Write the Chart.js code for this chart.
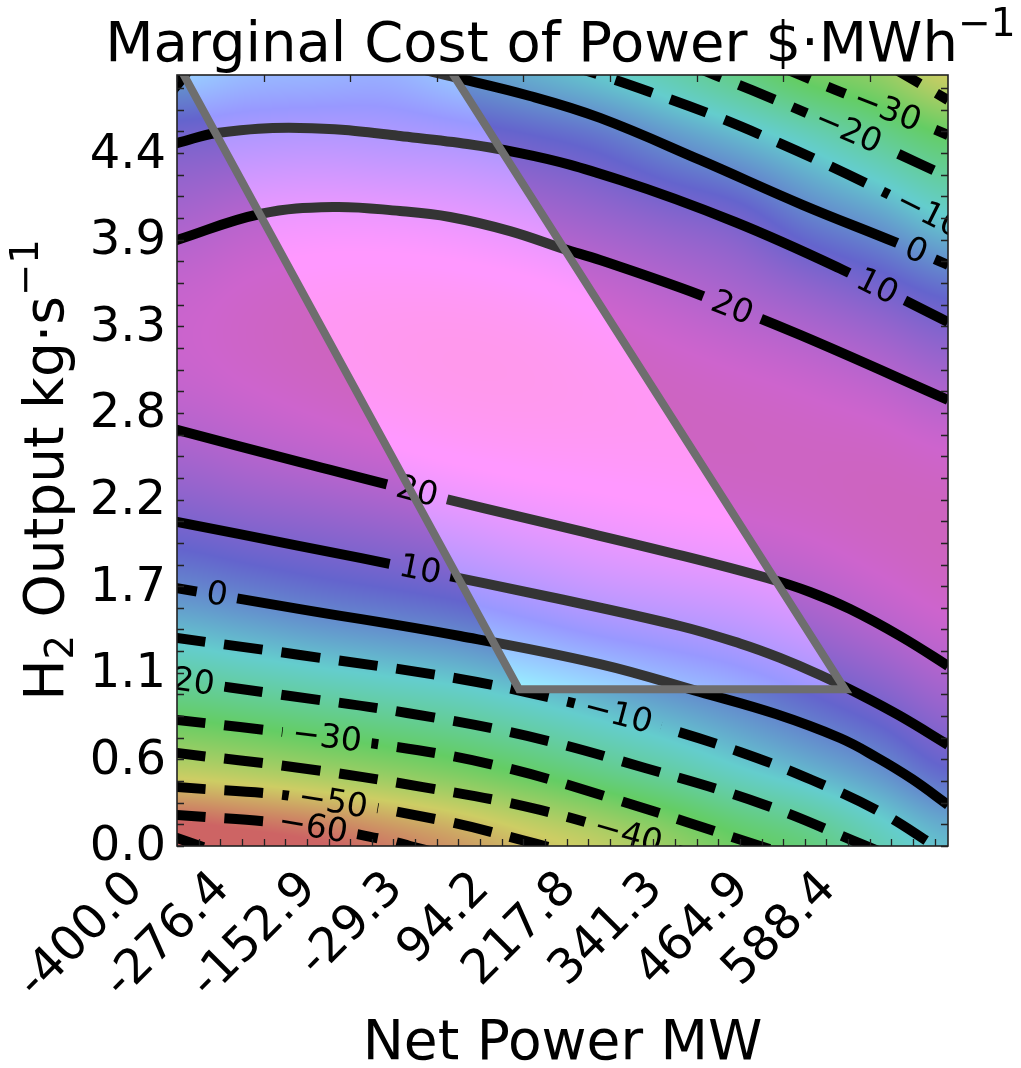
<!DOCTYPE html>
<html><head><meta charset="utf-8">
<script src="https://cdn.jsdelivr.net/npm/chart.js@4.4.0/dist/chart.umd.min.js"></script>
<style>html,body{margin:0;padding:0;background:#fff;}#wrap{width:1021px;height:1068px;}</style>
</head><body><div id="wrap"><canvas id="c" width="1021" height="1068"></canvas></div>
<script>
// ---------- axes ----------
const X_MIN = -400, X_MAX = 700, Y_MIN = 0, Y_MAX = 4.92;
const X_TICK_VALUES = [-400, -276.45, -152.9, -29.35, 94.2, 217.75, 341.3, 464.85, 588.4];
const X_TICK_LABELS = ['-400.0', '-276.4', '-152.9', '-29.3', '94.2', '217.8', '341.3', '464.9', '588.4'];
const Y_TICK_VALUES = [0, 0.5527, 1.1054, 1.6581, 2.2108, 2.7635, 3.3162, 3.8689, 4.4216];
const Y_TICK_LABELS = ['0.0', '0.6', '1.1', '1.7', '2.2', '2.8', '3.3', '3.9', '4.4'];

// ---------- field ----------
const GRID_X = [-400, -300, -200, -100, 0, 100, 200, 300, 400, 500, 600, 700];
const GRID_Y = [0, 0.5, 1.0, 1.5, 2.0, 2.5, 3.0, 3.5, 4.0, 4.5, 5.0];
const FIELD_Z = [
  [-73, -70, -67, -62, -57, -51, -46, -39, -31.5, -26, -16.6, -9],
  [-44.3, -42, -39.1, -36.1, -32.6, -28.2, -23.2, -18.2, -12.3, -7.1, -1.4, 6.2],
  [-22.3, -19.9, -17.4, -15.1, -12.8, -9.2, -5.5, -1.7, 2.0, 6.6, 11.5, 17.0],
  [-4.6, -2.2, 0.3, 2.1, 4.1, 7.3, 10.5, 12.5, 14.5, 17.6, 21.2, 24.2],
  [8.4, 10.5, 12.2, 14.0, 16.1, 18.5, 20.4, 21.8, 22.9, 24.2, 25.7, 26.5],
  [17.4, 19.5, 21.3, 22.9, 24.4, 25.3, 25.6, 25.7, 25.8, 25.7, 25.5, 24.2],
  [22.8, 24.3, 25.7, 26.8, 27.5, 27.4, 26.5, 25.4, 24.2, 22.7, 20.4, 16.9],
  [22.9, 24.5, 25.6, 26.1, 26.0, 25.1, 23.2, 20.8, 18.1, 14.7, 10.6, 5.7],
  [17.8, 20.2, 21.0, 20.8, 19.8, 18.0, 15.3, 12.3, 9.0, 1.7, -3.8, -11.2],
  [9.6, 10.8, 11.4, 10.7, 9.5, 7.2, 4.0, -1.7, -7.2, -13.8, -21.1, -28.6],
  [-5, -1, 0, 1, -3.6, -8, -12.7, -18.4, -26, -34.4, -39.5, -50]
];

// ---------- contour lines (x MW, y kg/s) ----------
const C_P20_LOW = [[-415,2.673],[-400,2.655],[-224.5,2.450],[-57.6,2.259],[132.2,2.055],[321.9,1.851],[441.8,1.710],[503.1,1.621],[560.2,1.512],[631.5,1.340],[700,1.149],[715,1.104]];
const C_P10_LOW = [[-415,2.081],[-400,2.068],[-224.5,1.914],[-53.3,1.761],[132.2,1.589],[317.6,1.404],[403.2,1.292],[460.3,1.200],[517.4,1.091],[574.4,0.967],[631.5,0.830],[700,0.645],[715,0.604]];
const C_0_LOW   = [[-415,1.657],[-400,1.646],[-224.5,1.512],[3.8,1.340],[203.5,1.161],[346.2,0.983],[454.6,0.842],[545.9,0.689],[597.3,0.568],[648.6,0.428],[700,0.262],[715,0.213]];
const C_M10_LOW = [[-415,1.336],[-400,1.327],[-224.5,1.219],[3.8,1.066],[146.4,0.932],[276.3,0.779],[403.2,0.600],[505.9,0.421],[603.0,0.217],[681.4,0],[699.5,-0.05]];
const C_M20_LOW = [[-415,1.068],[-400,1.059],[-248.8,0.964],[-71.9,0.849],[99.4,0.702],[267.7,0.498],[438.9,0.262],[583,0],[610.5,-0.05]];
const C_M30_LOW = [[-415,0.8115],[-400,0.804],[-310.1,0.759],[-124.6,0.657],[46.6,0.523],[219.2,0.306],[431.8,0],[466.5,-0.05]];
const C_M40_LOW = [[-415,0.601],[-400,0.593],[-224.5,0.498],[-49.0,0.376],[117.9,0.230],[296.2,0],[335,-0.05]];
const C_M50_LOW = [[-415,0.381],[-400,0.376],[-224.5,0.313],[-24.8,0.166],[125,0],[170,-0.05]];
const C_M60_LOW = [[-415,0.2035],[-400,0.198],[-224.5,0.134],[-100.4,0.038],[-67.6,0],[-24.5,-0.05]];
const C_M70_LOW = [[-415,0.074],[-400,0.051],[-367.2,0],[-335,-0.05]];
const C_P20_UP  = [[-415,3.846],[-400,3.867],[-281.6,4.033],[-177.4,4.078],[-81.8,4.052],[-10.5,4.014],[75.1,3.924],[152.1,3.810],[203.5,3.739],[346.2,3.516],[488.9,3.261],[700,2.846],[715,2.816]];
const C_P10_UP  = [[-415,4.476],[-400,4.486],[-342.9,4.550],[-224.5,4.582],[-81.8,4.531],[89.4,4.422],[232.0,4.250],[396.1,3.982],[550.2,3.676],[700,3.344],[715,3.311]];
const C_0_UP_A  = [[-415,4.772],[-400,4.856],[-388.6,4.920],[-375,5.0]];
const C_0_UP_B  = [[-75,4.984],[-17.6,4.920],[103.6,4.786],[203.5,4.646],[346.2,4.378],[493.1,4.090],[627.2,3.848],[700,3.708],[715,3.679]];
const C_M10_UP  = [[146.5,5.0],[203.5,4.920],[274.8,4.811],[360.4,4.671],[446.0,4.512],[531.6,4.339],[617.2,4.154],[700,3.969],[715,3.936]];
const C_M20_UP  = [[324.8,4.998],[367.6,4.920],[474.6,4.722],[560.2,4.556],[617.3,4.441],[700,4.269],[715,4.238]];
const C_M30_UP  = [[452,4.99],[488.9,4.920],[540.2,4.824],[613,4.697],[700,4.537],[715,4.509]];
const C_M40_UP  = [[612,4.99],[638.7,4.920],[700,4.760],[715,4.721]];

const CONTOUR_LEVELS = [20, 10, 0, -10, -20, -30, -40, -50, -60, -70, 20, 10, 0, 0, -10, -20, -30, -40];
const CONTOUR_POINTS = [C_P20_LOW, C_P10_LOW, C_0_LOW, C_M10_LOW, C_M20_LOW, C_M30_LOW, C_M40_LOW, C_M50_LOW, C_M60_LOW, C_M70_LOW,
                        C_P20_UP, C_P10_UP, C_0_UP_A, C_0_UP_B, C_M10_UP, C_M20_UP, C_M30_UP, C_M40_UP];

// ---------- contour labels ----------
const LABEL_TEXT = ['20', '10', '0', '\u221210', '\u221220', '\u221230', '\u221240', '\u221250', '\u221260', '20', '10', '0', '\u221210', '\u221220', '\u221230'];
const LABEL_X    = [-57.6, -53.3, -342.9, 229.2, -395.7, -186, 243.4, -177.4, -206, 391.8, 598.7, 654.3, 672.9, 557.3, 613];
const LABEL_Y    = [2.259, 1.761, 1.603, 0.836, 1.056, 0.691, 0.07, 0.278, 0.120, 3.433, 3.568, 3.796, 4.03, 4.563, 4.697];
const LABEL_LINE = [0, 1, 2, 3, 4, 5, 6, 7, 8, 10, 11, 13, 14, 15, 16];

// ---------- operating region ----------
const REGION_X = [-400, -17, 553, 88];
const REGION_Y = [5.0, 5.0, 1.0, 1.0];

// ---------- colormap ----------
const CMAP_STOPS = [[-66,[205,100,100]],[-48,[205,205,100]],[-30,[100,205,100]],[-12,[100,205,205]],[6,[100,100,205]],[24,[205,100,205]],[42,[205,100,100]]];

function cmap(z){
  const s = CMAP_STOPS;
  if (z <= s[0][0]) return s[0][1];
  for (let k = 0; k < s.length - 1; k++){
    if (z <= s[k+1][0]){
      const t = (z - s[k][0]) / (s[k+1][0] - s[k][0]);
      const a = s[k][1], b = s[k+1][1];
      return [a[0]+(b[0]-a[0])*t, a[1]+(b[1]-a[1])*t, a[2]+(b[2]-a[2])*t];
    }
  }
  return s[s.length-1][1];
}
function cr(p0,p1,p2,p3,t){
  return p1 + 0.5*t*(p2-p0 + t*(2*p0-5*p1+4*p2-p3 + t*(3*(p1-p2)+p3-p0)));
}
function zAt(x, y){
  const nx = GRID_X.length, ny = GRID_Y.length;
  let fx = (x - GRID_X[0]) / (GRID_X[1]-GRID_X[0]);
  let fy = (y - GRID_Y[0]) / (GRID_Y[1]-GRID_Y[0]);
  fx = Math.max(0, Math.min(nx-1.0001, fx)); fy = Math.max(0, Math.min(ny-1.0001, fy));
  const i = Math.floor(fx), j = Math.floor(fy), tx = fx - i, ty = fy - j;
  const cx = k => Math.max(0, Math.min(nx-1, k)), cy = k => Math.max(0, Math.min(ny-1, k));
  const rows = [];
  for (let m = -1; m <= 2; m++){
    const r = FIELD_Z[cy(j+m)];
    rows.push(cr(r[cx(i-1)], r[cx(i)], r[cx(i+1)], r[cx(i+2)], tx));
  }
  return cr(rows[0], rows[1], rows[2], rows[3], ty);
}

const FONT = '"DejaVu Sans", sans-serif';

function richWidth(ctx, parts, size){
  let w = 0;
  for (const p of parts){ ctx.font = ((p.sup||p.sub) ? size*0.7 : size) + 'px ' + FONT; w += ctx.measureText(p.t).width; }
  return w;
}
function drawRich(ctx, parts, cx, baseY, size){
  const w = richWidth(ctx, parts, size);
  let x = cx - w/2;
  ctx.textAlign = 'left'; ctx.textBaseline = 'alphabetic'; ctx.fillStyle = '#000';
  for (const p of parts){
    const s = (p.sup||p.sub) ? size*0.7 : size;
    ctx.font = s + 'px ' + FONT;
    let y = baseY;
    if (p.sup) y -= size*0.45;
    if (p.sub) y += size*0.18;
    ctx.fillText(p.t, x, y);
    x += ctx.measureText(p.t).width;
  }
}

function labelAngle(xs, ys, pts, xv){
  for (let k = 0; k < pts.length-1; k++){
    if (xv >= pts[k][0] && xv <= pts[k+1][0]){
      const x0 = xs.getPixelForValue(pts[k][0]), y0 = ys.getPixelForValue(pts[k][1]);
      const x1 = xs.getPixelForValue(pts[k+1][0]), y1 = ys.getPixelForValue(pts[k+1][1]);
      return Math.atan2(y1-y0, x1-x0);
    }
  }
  return 0;
}

const fieldPlugin = {
  id: 'field',
  beforeDatasetsDraw(chart){
    const {ctx, chartArea: a, scales: {x: xs, y: ys}} = chart;
    const w = Math.round(a.right - a.left), h = Math.round(a.bottom - a.top);
    const off = document.createElement('canvas'); off.width = w; off.height = h;
    const octx = off.getContext('2d');
    const img = octx.createImageData(w, h);
    const xv = []; for (let i = 0; i < w; i++) xv.push(xs.getValueForPixel(a.left + i + 0.5));
    for (let j = 0; j < h; j++){
      const yv = ys.getValueForPixel(a.top + j + 0.5);
      for (let i = 0; i < w; i++){
        const c = cmap(zAt(xv[i], yv));
        const o = (j*w + i)*4;
        img.data[o] = c[0]; img.data[o+1] = c[1]; img.data[o+2] = c[2]; img.data[o+3] = 255;
      }
    }
    octx.putImageData(img, 0, 0);
    chart.$field = off;
    ctx.drawImage(off, a.left, a.top);
  },
  afterDatasetsDraw(chart){
    const {ctx, chartArea: a, scales: {x: xs, y: ys}} = chart;
    const labelFont = '33px ' + FONT;
    ctx.save();
    ctx.font = labelFont;
    const geo = LABEL_TEXT.map((t, k) => {
      const px = xs.getPixelForValue(LABEL_X[k]), py = ys.getPixelForValue(LABEL_Y[k]);
      const ang = labelAngle(xs, ys, CONTOUR_POINTS[LABEL_LINE[k]], LABEL_X[k]);
      return {t, px, py, ang, w: ctx.measureText(t).width};
    });
    for (const g of geo){
      ctx.save();
      ctx.beginPath(); ctx.rect(a.left, a.top, a.right-a.left, a.bottom-a.top); ctx.clip();
      ctx.translate(g.px, g.py); ctx.rotate(g.ang);
      ctx.beginPath(); ctx.rect(-g.w/2 - 10, -9, g.w + 20, 18);
      ctx.setTransform(1,0,0,1,0,0);
      ctx.clip();
      ctx.drawImage(chart.$field, a.left, a.top);
      ctx.restore();
    }
    ctx.restore();
    const poly = () => {
      ctx.beginPath();
      REGION_X.forEach((xv, k) => {
        const px = xs.getPixelForValue(xv), py = ys.getPixelForValue(REGION_Y[k]);
        if (k === 0) ctx.moveTo(px, py); else ctx.lineTo(px, py);
      });
      ctx.closePath();
    };
    ctx.save();
    ctx.beginPath(); ctx.rect(a.left, a.top, a.right-a.left, a.bottom-a.top); ctx.clip();
    ctx.globalCompositeOperation = 'lighter';
    ctx.fillStyle = 'rgb(52,52,52)';
    poly(); ctx.fill();
    ctx.restore();
    ctx.save();
    ctx.beginPath(); ctx.rect(a.left, a.top, a.right-a.left, a.bottom-a.top); ctx.clip();
    ctx.font = labelFont; ctx.fillStyle = '#000'; ctx.textAlign = 'center'; ctx.textBaseline = 'middle';
    for (const g of geo){
      ctx.save(); ctx.translate(g.px, g.py); ctx.rotate(g.ang); ctx.fillText(g.t, 0, 1); ctx.restore();
    }
    ctx.restore();
    ctx.save();
    ctx.beginPath(); ctx.rect(a.left, a.top, a.right-a.left, a.bottom-a.top); ctx.clip();
    ctx.strokeStyle = '#6e6e6e'; ctx.lineWidth = 8; ctx.lineJoin = 'miter';
    poly(); ctx.stroke();
    ctx.restore();
    ctx.save();
    ctx.strokeStyle = '#222'; ctx.lineWidth = 1.3;
    const xStep = (X_TICK_VALUES[1]-X_TICK_VALUES[0])/4, yStep = (Y_TICK_VALUES[1]-Y_TICK_VALUES[0])/4;
    ctx.beginPath();
    for (let v = X_MIN; v <= X_MAX + 1e-9; v += xStep){
      const p = Math.round(xs.getPixelForValue(v)) + 0.5;
      ctx.moveTo(p, a.bottom); ctx.lineTo(p, a.bottom - 7);
    }
    for (const v of X_TICK_VALUES){
      const p = Math.round(xs.getPixelForValue(v)) + 0.5;
      ctx.moveTo(p, a.top); ctx.lineTo(p, a.top + 7);
    }
    for (let v = Y_MIN; v <= Y_MAX + 1e-9; v += yStep){
      const p = Math.round(ys.getPixelForValue(v)) + 0.5;
      ctx.moveTo(a.left, p); ctx.lineTo(a.left + 7, p);
      ctx.moveTo(a.right, p); ctx.lineTo(a.right - 7, p);
    }
    ctx.stroke();
    ctx.lineWidth = 1.6;
    ctx.strokeRect(a.left, a.top, a.right-a.left, a.bottom-a.top);
    ctx.restore();
  },
  afterDraw(chart){
    const {ctx, chartArea: a} = chart;
    ctx.save();
    const cx = (a.left + a.right)/2;
    drawRich(ctx, [{t:'Marginal Cost of Power $\u00b7MWh'},{t:'\u22121', sup:true}], cx - 2, 61, 56);
    drawRich(ctx, [{t:'Net Power MW'}], cx, 1059, 55);
    ctx.translate(63, 470); ctx.rotate(-Math.PI/2);
    drawRich(ctx, [{t:'H'},{t:'2', sub:true},{t:' Output kg\u00b7s'},{t:'\u22121', sup:true}], 0, 0, 55);
    ctx.restore();
  }
};

const datasets = CONTOUR_POINTS.map((pts, k) => ({
  data: pts.map(p => ({x: p[0], y: p[1]})),
  borderColor: '#000',
  borderWidth: 10,
  borderDash: CONTOUR_LEVELS[k] < 0 ? [39, 19] : [],
  borderCapStyle: 'butt',
  pointRadius: 0,
  fill: false,
  clip: 0,
  tension: 0.4
}));

new Chart(document.getElementById('c'), {
  type: 'line',
  data: { datasets },
  plugins: [fieldPlugin],
  options: {
    responsive: false, animation: false, devicePixelRatio: 1, events: [],
    layout: { padding: { left: 0, right: 73, top: 75, bottom: 0 } },
    plugins: { legend: { display: false }, tooltip: { enabled: false }, title: { display: false } },
    elements: { point: { radius: 0 }, line: { capBezierPoints: false } },
    scales: {
      x: {
        type: 'linear', min: X_MIN, max: X_MAX,
        afterBuildTicks: s => { s.ticks = X_TICK_VALUES.map(v => ({ value: v })); },
        afterFit: s => { s.height = 222; },
        grid: { display: false, drawTicks: false }, border: { display: false },
        ticks: { autoSkip: false, minRotation: 45, maxRotation: 45, padding: 15, labelOffset: -41,
                 color: '#000', font: { family: 'DejaVu Sans', size: 48 },
                 callback: (v, i) => X_TICK_LABELS[i] }
      },
      y: {
        type: 'linear', min: Y_MIN, max: Y_MAX,
        afterBuildTicks: s => { s.ticks = Y_TICK_VALUES.map(v => ({ value: v })); },
        afterFit: s => { s.width = 177; },
        grid: { display: false, drawTicks: false }, border: { display: false },
        ticks: { autoSkip: false, padding: 11, labelOffset: 2,
                 color: '#000', font: { family: 'DejaVu Sans', size: 48 },
                 callback: (v, i) => Y_TICK_LABELS[i] }
      }
    }
  }
});
</script></body></html>
